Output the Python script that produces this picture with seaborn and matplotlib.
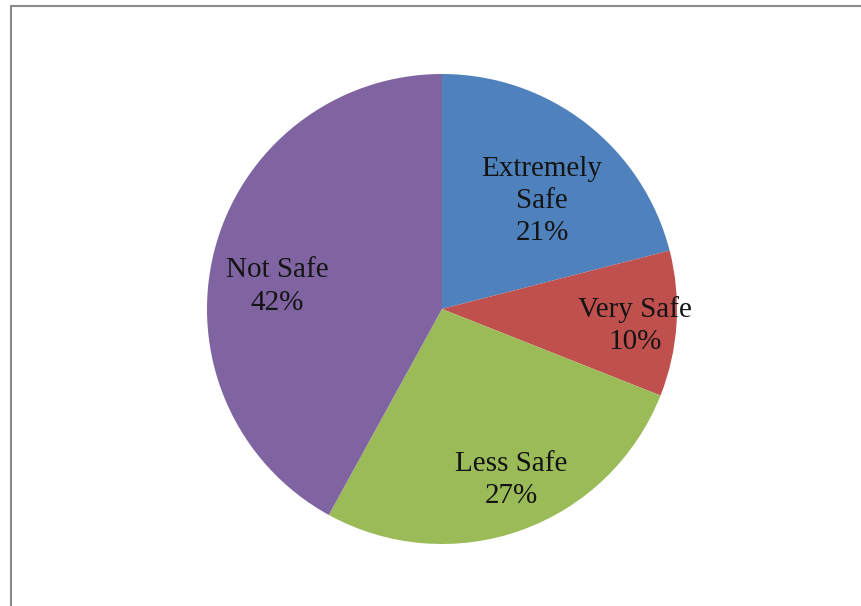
import matplotlib
matplotlib.use("Agg")
import matplotlib.pyplot as plt
import seaborn as sns
from matplotlib.lines import Line2D

categories = ["Extremely\nSafe", "Very Safe", "Less Safe", "Not Safe"]
values = [21, 10, 27, 42]
colors = ["#4F81BD", "#C0504D", "#9BBB59", "#8064A2"]

# label placement, in units of the pie radius relative to its centre (layout only)
label_offsets = [(0.426, 0.46), (0.821, -0.07), (0.294, -0.727), (-0.702, 0.095)]

sns.set_theme(style="white")
plt.rcParams['font.family'] = ['Liberation Serif', 'DejaVu Serif']

W, H = 861, 606
fig = plt.figure(figsize=(W / 100, H / 100), dpi=100)
ax = fig.add_axes([0, 0, 1, 1])

cx, cy, r = 442, H - 309, 235
wedges, _ = ax.pie(values, colors=colors, startangle=90, counterclock=False,
                   center=(cx, cy), radius=r, frame=True,
                   wedgeprops=dict(linewidth=0))
ax.set_xlim(0, W)
ax.set_ylim(0, H)
ax.axis("off")

total = sum(values)
for cat, v, (dx, dy) in zip(categories, values, label_offsets):
    ax.text(cx + dx * r, cy + dy * r, f"{cat}\n{round(100 * v / total)}%",
            ha="center", va="center", fontsize=21, color="#141414",
            linespacing=1.32)

fig.add_artist(Line2D([11 / W, 11 / W], [0, 1 - 6 / H], transform=fig.transFigure,
                      color="#8a8a8a", linewidth=1.5))
fig.add_artist(Line2D([11 / W, 1], [1 - 6 / H, 1 - 6 / H], transform=fig.transFigure,
                      color="#8a8a8a", linewidth=1.5))

fig.savefig("out.png", dpi=100)
